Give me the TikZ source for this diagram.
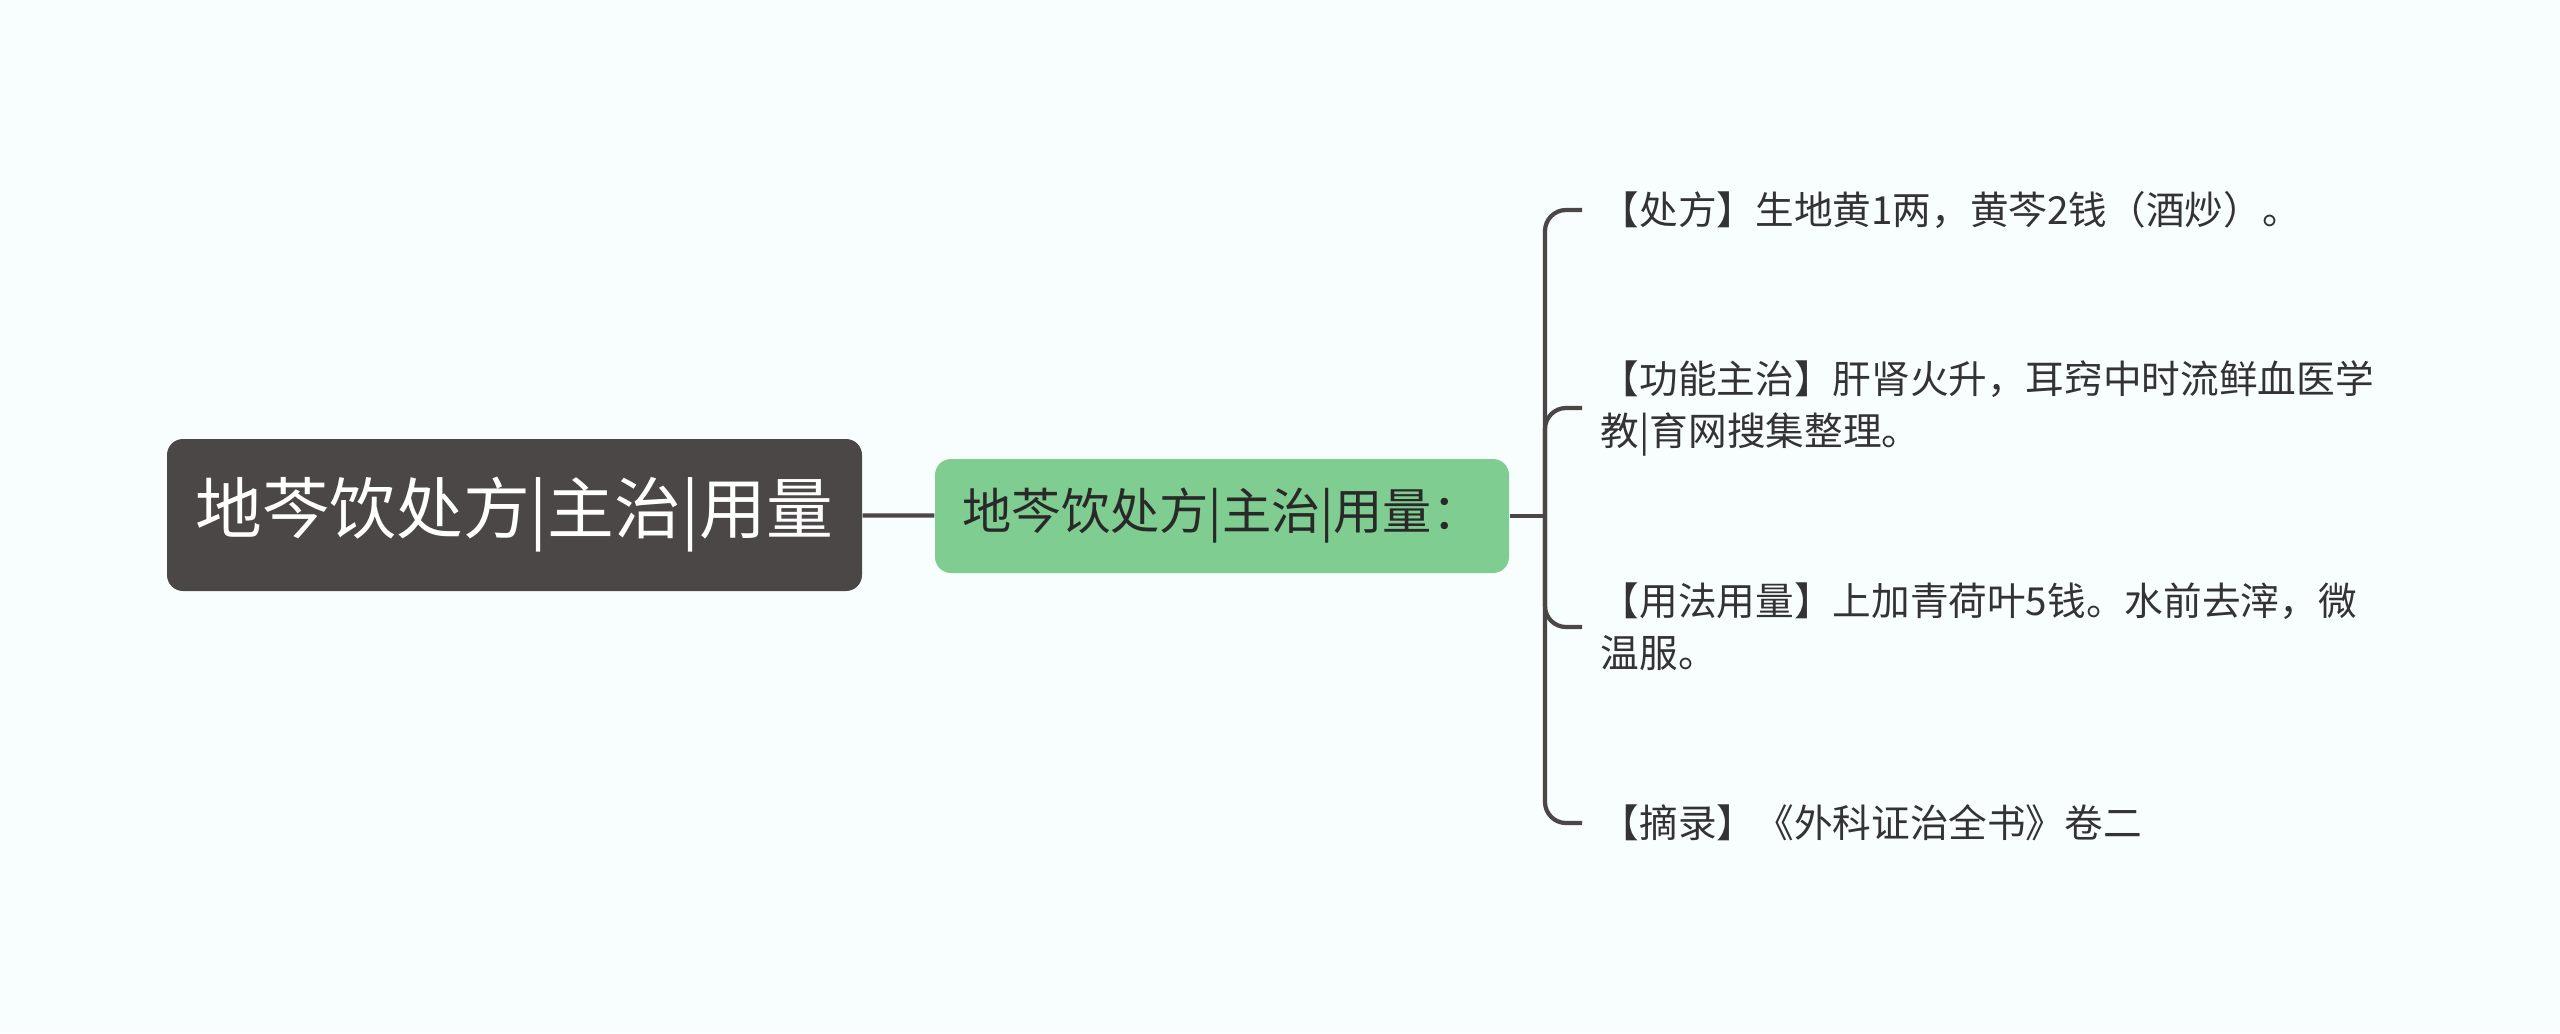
\documentclass[tikz,border=0pt]{standalone}
\usepackage{fontspec}
\setmainfont{Noto Sans CJK SC}
\definecolor{rootgray}{HTML}{4B4747}
\definecolor{subgreen}{HTML}{80CD91}
\definecolor{linegray}{HTML}{4B4747}
\definecolor{leaftext}{HTML}{333333}
\definecolor{bgcolor}{HTML}{F8FDFE}

\begin{document}
\begin{tikzpicture}[rootbox/.style={fill=rootgray, rounded corners=0.16cm, text=white, minimum width=6.95cm, minimum height=1.52cm, inner sep=0pt, font=\fontsize{19}{23}\selectfont},
subbox/.style={fill=subgreen, rounded corners=0.16cm, text=leaftext!80!black, minimum width=5.74cm, minimum height=1.14cm, inner sep=0pt, font=\fontsize{14}{17}\selectfont},
leaf/.style={anchor=west, inner sep=0pt, align=left, text=leaftext, font=\fontsize{11}{14.8}\selectfont},
branch/.style={draw=linegray, line width=1.2pt, rounded corners=0.21cm}]
\fill [bgcolor] (0,0) rectangle (25.6,-10.33);
\useasboundingbox (0,0) rectangle (25.6,-10.33);
\node [rootbox] (root) at (5.145,-5.15) {地芩饮处方|主治|用量};
\node [subbox] (sub) at (12.22,-5.16) {地芩饮处方|主治|用量：};
\coordinate (hub) at (15.45,-5.16);
\node [leaf] (recipe) at (16.0,-2.10) {【处方】生地黄1两，黄芩2钱（酒炒）。};
\node [leaf] (indication) at (16.0,-4.08) {【功能主治】肝肾火升，耳窍中时流鲜血医学\\教|育网搜集整理。};
\node [leaf] (dosage) at (16.0,-6.27) {【用法用量】上加青荷叶5钱。水前去滓，微\\温服。};
\node [leaf] (source) at (16.0,-8.23) {【摘录】《外科证治全书》卷二};
\draw [branch] (root) -- (sub);
\draw [branch] (sub) -- (hub);
\draw [branch] (hub) |- ([xshift=-0.18cm]recipe.west);
\draw [branch] (hub) |- ([xshift=-0.18cm]indication.west);
\draw [branch] (hub) |- ([xshift=-0.18cm]dosage.west);
\draw [branch] (hub) |- ([xshift=-0.18cm]source.west);
\end{tikzpicture}
\end{document}
